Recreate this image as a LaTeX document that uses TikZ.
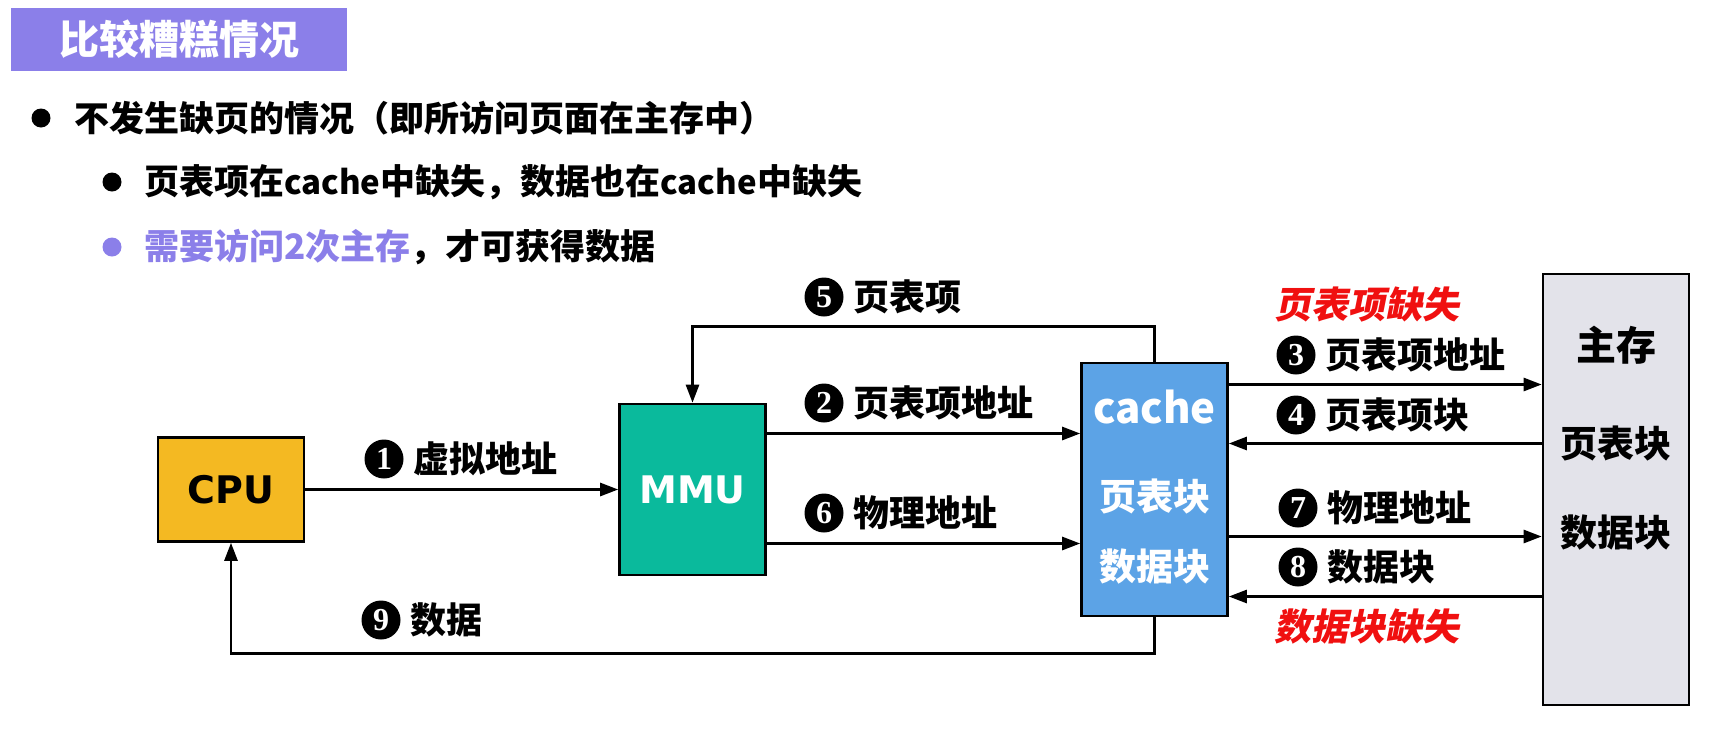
\documentclass[tikz,border=0pt]{standalone}
\usepackage{fontspec}
\setmainfont{Noto Sans CJK SC}
\newfontfamily\latinbold{DejaVu Sans}
\newfontfamily\slantcjk{Noto Sans CJK SC}[FakeSlant=0.2]
\newfontfamily\numfont{Liberation Serif}
\usetikzlibrary{arrows.meta,positioning}
\definecolor{titlepurple}{RGB}{139,127,233}
\definecolor{cpuyellow}{RGB}{244,185,34}
\definecolor{mmugreen}{RGB}{10,186,156}
\definecolor{cacheblue}{RGB}{92,163,230}
\definecolor{memgray}{RGB}{227,227,234}
\definecolor{missred}{RGB}{240,16,16}
\tikzset{
  box/.style={draw, line width=2.6pt, minimum width=146pt, inner sep=0pt},
  boxtxt/.style={inner sep=0pt, font=\bfseries\fontsize{37}{37}\selectfont},
  link/.style={line width=2.6pt, -{Triangle[length=18pt,width=13pt]}},
  numc/.style={circle, fill=black, text=white, minimum size=39pt, inner sep=0pt, font=\numfont\bfseries\fontsize{32}{32}\selectfont},
  lbl/.style={anchor=west, inner sep=0pt, font=\bfseries\fontsize{36}{36}\selectfont},
  miss/.style={inner sep=0pt, text=missred, font=\slantcjk\bfseries\fontsize{37}{37}\selectfont},
  dot/.style={circle, minimum size=19pt, inner sep=0pt},
  line/.style={anchor=west, inner sep=0pt, font=\bfseries\fontsize{35}{35}\selectfont},
}
\begin{document}
\begin{tikzpicture}[x=1pt,y=-1pt]
\useasboundingbox (0,0) rectangle (1726,734);
%%% heading and the three bullet lines
\node[fill=titlepurple, minimum width=336pt, minimum height=63pt, inner sep=0pt, text=white,
  font=\bfseries\fontsize{40}{40}\selectfont] (head) at (179,39.5) {比较糟糕情况};
\node[dot, fill=black] (d1) at (41,118) {};
\node[line] (l1) at (74,118) {不发生缺页的情况（即所访问页面在主存中）};
\node[dot, fill=black] (d2) at (112,182) {};
\node[line] (l2) at (144,182) {页表项在{\fontsize{33}{33}\selectfont cache}中缺失，数据也在{\fontsize{33}{33}\selectfont cache}中缺失};
\node[dot, fill=titlepurple] (d3) at (112,247) {};
\node[line] (l3) at (144,247) {{\color{titlepurple}需要访问2次主存}，才可获得数据};
%%% the four units
\node[box, fill=cpuyellow, minimum height=104pt, font=\latinbold\bfseries\fontsize{38}{38}\selectfont] (cpu) at (231,489.5) {CPU};
\node[box, fill=mmugreen, minimum height=171pt, text=white, font=\latinbold\bfseries\fontsize{38}{38}\selectfont] (mmu) at (692.5,489.5) {MMU};
\node[box, fill=cacheblue, minimum height=253pt] (cache) at (1154.5,489.5) {};
\node[box, fill=memgray, minimum height=431pt] (mem) at (1616,489.5) {};
\node[boxtxt, text=white, font=\bfseries\fontsize{42}{42}\selectfont] (cachename) at ([yshift=82pt]cache.center) {cache};
\node[boxtxt, text=white] (cachept) at ([yshift=-7pt]cache.center) {页表块};
\node[boxtxt, text=white] (cachedata) at ([yshift=-77pt]cache.center) {数据块};
\node[boxtxt, font=\bfseries\fontsize{40}{40}\selectfont] (memname) at ([yshift=144pt]mem.center) {主存};
\node[boxtxt] (mempt) at ([yshift=46pt]mem.center) {页表块};
\node[boxtxt] (memdata) at ([yshift=-43pt]mem.center) {数据块};
%%% connectors
\draw[link] (cpu.east) -- (mmu.west);
\draw[link] ([yshift=56pt]mmu.east) -- ([yshift=56pt]cache.west);
\draw[link] ([yshift=-54pt]mmu.east) -- ([yshift=-54pt]cache.west);
\draw[link] ([yshift=105pt]cache.east) -- ([yshift=105pt]mem.west);
\draw[link] ([yshift=46pt]mem.west) -- ([yshift=46pt]cache.east);
\draw[link] ([yshift=-47pt]cache.east) -- ([yshift=-47pt]mem.west);
\draw[link] ([yshift=-107pt]mem.west) -- ([yshift=-107pt]cache.east);
\draw[link] (cache.north) -- ++(0,-35) -| (mmu.north);
\draw[link] (cache.south) -- ++(0,36) -| (cpu.south);
%%% step labels
\node[numc] (n1) at (384,459) {1};
\node[lbl, right=10pt of n1] (t1) {虚拟地址};
\node[numc] (n2) at (824,403) {2};
\node[lbl, right=10pt of n2] (t2) {页表项地址};
\node[numc] (n3) at (1296,355) {3};
\node[lbl, right=10pt of n3] (t3) {页表项地址};
\node[numc] (n4) at (1296,415) {4};
\node[lbl, right=10pt of n4] (t4) {页表项块};
\node[numc] (n5) at (824,297) {5};
\node[lbl, right=10pt of n5] (t5) {页表项};
\node[numc] (n6) at (824,513) {6};
\node[lbl, right=10pt of n6] (t6) {物理地址};
\node[numc] (n7) at (1298,508) {7};
\node[lbl, right=10pt of n7] (t7) {物理地址};
\node[numc] (n8) at (1298,567) {8};
\node[lbl, right=10pt of n8] (t8) {数据块};
\node[numc] (n9) at (381,620) {9};
\node[lbl, right=10pt of n9] (t9) {数据};
\node[miss] (miss1) at (1367,305) {页表项缺失};
\node[miss] (miss2) at (1367,627) {数据块缺失};
\end{tikzpicture}
\end{document}
